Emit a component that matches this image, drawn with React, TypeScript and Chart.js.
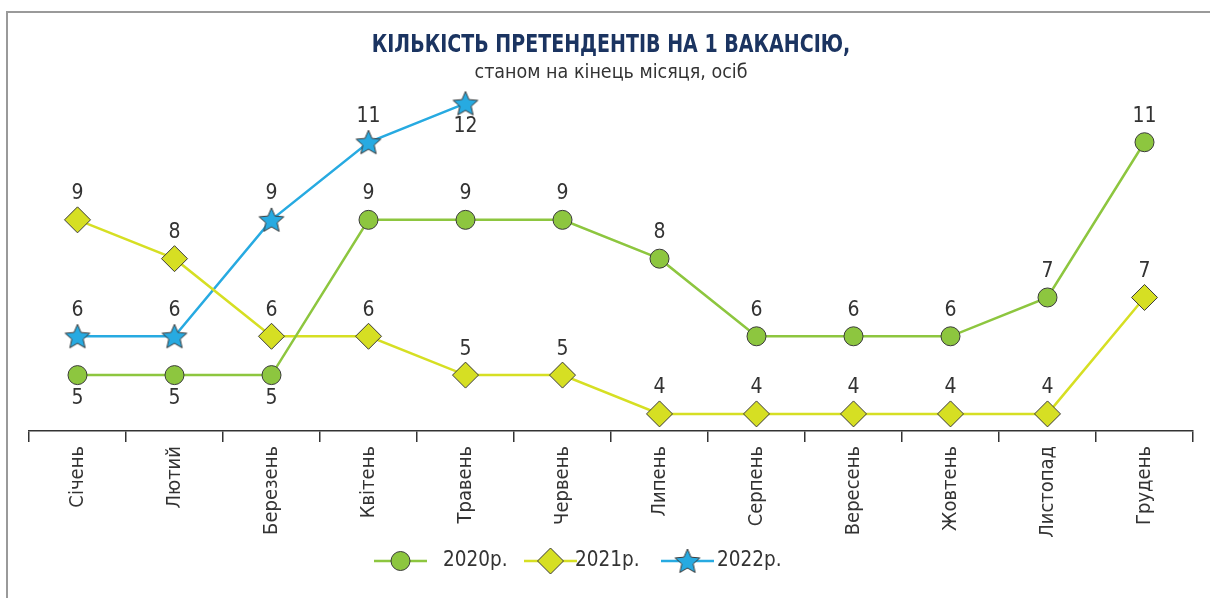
import React, { useEffect, useRef } from 'react';
import { Chart, registerables } from 'chart.js';
Chart.register(...registerables);

const months = ['Січень', 'Лютий', 'Березень', 'Квітень', 'Травень', 'Червень', 'Липень', 'Серпень', 'Вересень', 'Жовтень', 'Листопад', 'Грудень'];
const values2020 = [5, 5, 5, 9, 9, 9, 8, 6, 6, 6, 7, 11];
const values2021 = [9, 8, 6, 6, 5, 5, 4, 4, 4, 4, 4, 7];
const values2022 = [6, 6, 9, 11, 12, null, null, null, null, null, null, null];
const seriesNames = ['2020р.', '2021р.', '2022р.'];
const titleText = 'КІЛЬКІСТЬ ПРЕТЕНДЕНТІВ НА 1 ВАКАНСІЮ,';
const subtitleText = 'станом на кінець місяця, осіб';

const FONT = "'Liberation Sans Narrow', 'DejaVu Sans Condensed', 'Roboto Condensed', Roboto, sans-serif";
const TEXT = '#333333';
const GREEN = '#8dc63f';
const LIME = '#d6df23';
const BLUE = '#27aae1';
const EDGE = '#3a3a3a';

function makeStar(r: number, fill: string): HTMLCanvasElement {
  const size = Math.ceil(r * 2 + 4);
  const c = document.createElement('canvas');
  c.width = size;
  c.height = size;
  const ctx = c.getContext('2d')!;
  ctx.translate(size / 2, size / 2 + 1);
  ctx.beginPath();
  for (let i = 0; i < 10; i++) {
    const rad = i % 2 === 0 ? r : r * 0.46;
    const a = -Math.PI / 2 + (i * Math.PI) / 5;
    ctx.lineTo(rad * Math.cos(a), rad * Math.sin(a));
  }
  ctx.closePath();
  ctx.fillStyle = fill;
  ctx.fill();
  ctx.strokeStyle = EDGE;
  ctx.lineWidth = 1;
  ctx.stroke();
  return c;
}

function drawMarker(ctx: CanvasRenderingContext2D, style: any, x: number, y: number, r: number, fill: string) {
  if (style instanceof HTMLCanvasElement) {
    ctx.drawImage(style, x - style.width / 2, y - style.height / 2);
    return;
  }
  ctx.beginPath();
  if (style === 'circle') {
    ctx.arc(x, y, r, 0, Math.PI * 2);
  } else {
    ctx.moveTo(x, y - r);
    ctx.lineTo(x + r, y);
    ctx.lineTo(x, y + r);
    ctx.lineTo(x - r, y);
    ctx.closePath();
  }
  ctx.fillStyle = fill;
  ctx.fill();
  ctx.strokeStyle = EDGE;
  ctx.lineWidth = 1;
  ctx.stroke();
}

const titlePlugin = {
  id: 'titleText',
  afterDraw(chart: any) {
    const ctx = chart.ctx as CanvasRenderingContext2D;
    ctx.save();
    ctx.textAlign = 'center';
    ctx.textBaseline = 'middle';
    ctx.fillStyle = '#1b3461';
    ctx.font = `bold 25px ${FONT}`;
    ctx.save();
    ctx.translate(611, 45);
    ctx.scale(0.846, 1);
    ctx.fillText(titleText, 0, 0);
    ctx.restore();
    ctx.fillStyle = TEXT;
    ctx.font = `19.5px ${FONT}`;
    ctx.fillText(subtitleText, 611, 73);
    ctx.restore();
  },
};

const valueLabelPlugin = {
  id: 'valueLabels',
  afterDatasetsDraw(chart: any) {
    const ctx = chart.ctx as CanvasRenderingContext2D;
    ctx.save();
    ctx.font = `21px ${FONT}`;
    ctx.fillStyle = TEXT;
    ctx.textAlign = 'center';
    ctx.textBaseline = 'middle';
    chart.data.datasets.forEach((ds: any, i: number) => {
      const meta = chart.getDatasetMeta(i);
      meta.data.forEach((pt: any, j: number) => {
        const v = ds.data[j];
        if (v == null) return;
        const below = ds.labelBelow && ds.labelBelow[j];
        ctx.fillText(String(v), pt.x, pt.y + (below ? 23 : -26));
      });
    });
    ctx.restore();
  },
};

const legendLineStart = [374, 524, 661];
const legendTextStart = [443, 575, 717];

const legendPlugin = {
  id: 'customLegend',
  afterDraw(chart: any) {
    const ctx = chart.ctx as CanvasRenderingContext2D;
    const y = 561;
    ctx.save();
    chart.data.datasets.forEach((ds: any, i: number) => {
      const x0 = legendLineStart[i];
      ctx.strokeStyle = ds.borderColor;
      ctx.lineWidth = 2.5;
      ctx.beginPath();
      ctx.moveTo(x0, y);
      ctx.lineTo(x0 + 53, y);
      ctx.stroke();
      drawMarker(ctx, ds.pointStyle, x0 + 26.5, y, ds.pointRadius, ds.pointBackgroundColor);
      ctx.fillStyle = TEXT;
      ctx.font = `20.5px ${FONT}`;
      ctx.textAlign = 'left';
      ctx.textBaseline = 'middle';
      ctx.fillText(ds.label, legendTextStart[i], y);
    });
    ctx.restore();
  },
};

export default function App() {
  const ref = useRef<HTMLCanvasElement>(null);
  useEffect(() => {
    document.body.style.margin = '0';
    const star = makeStar(13, BLUE);
    const chart = new Chart(ref.current!, {
      type: 'line',
      data: {
        labels: months,
        datasets: [
          {
            label: seriesNames[0],
            data: values2020,
            borderColor: GREEN,
            backgroundColor: GREEN,
            pointBackgroundColor: GREEN,
            pointBorderColor: EDGE,
            pointBorderWidth: 1,
            pointStyle: 'circle',
            pointRadius: 9.5,
            borderWidth: 2.5,
            labelBelow: [true, true, true, false, false, false, false, false, false, false, false, false],
          } as any,
          {
            label: seriesNames[1],
            data: values2021,
            borderColor: LIME,
            backgroundColor: LIME,
            pointBackgroundColor: LIME,
            pointBorderColor: EDGE,
            pointBorderWidth: 1,
            pointStyle: 'rectRot',
            pointRadius: 13,
            borderWidth: 2.5,
          } as any,
          {
            label: seriesNames[2],
            data: values2022,
            borderColor: BLUE,
            backgroundColor: BLUE,
            pointBackgroundColor: BLUE,
            pointBorderColor: EDGE,
            pointStyle: star,
            pointRadius: 13,
            borderWidth: 2.5,
            labelBelow: [false, false, false, false, true],
          } as any,
        ],
      },
      options: {
        animation: false,
        responsive: false,
        events: [],
        layout: { padding: { left: 29, right: 17, top: 84, bottom: 0 } },
        plugins: {
          legend: { display: false },
          title: { display: false },
          tooltip: { enabled: false },
        },
        scales: {
          x: {
            offset: true,
            grid: {
              offset: true,
              drawOnChartArea: false,
              drawTicks: true,
              tickLength: 11,
              color: TEXT,
              lineWidth: 1.5,
            },
            border: { display: true, color: TEXT, width: 1.5 },
            ticks: {
              autoSkip: false,
              minRotation: 90,
              maxRotation: 90,
              padding: 4,
              color: TEXT,
              font: { size: 20, family: FONT },
            },
            afterFit: (s: any) => {
              s.height = 167;
            },
          },
          y: {
            display: false,
            min: 3.56,
            max: 12.5,
          },
        },
      } as any,
      plugins: [titlePlugin, valueLabelPlugin, legendPlugin],
    });
    return () => chart.destroy();
  }, []);
  return (
    <div style={{ position: 'relative', width: 1210, height: 598, overflow: 'hidden', background: '#fff' }}>
      <canvas ref={ref} width={1210} height={598} style={{ display: 'block', width: 1210, height: 598 }} />
      <div
        style={{
          position: 'absolute',
          left: 6,
          top: 11,
          right: 0,
          bottom: 0,
          borderLeft: '2px solid #9a9a9a',
          borderTop: '2px solid #9a9a9a',
          pointerEvents: 'none',
        }}
      />
    </div>
  );
}
